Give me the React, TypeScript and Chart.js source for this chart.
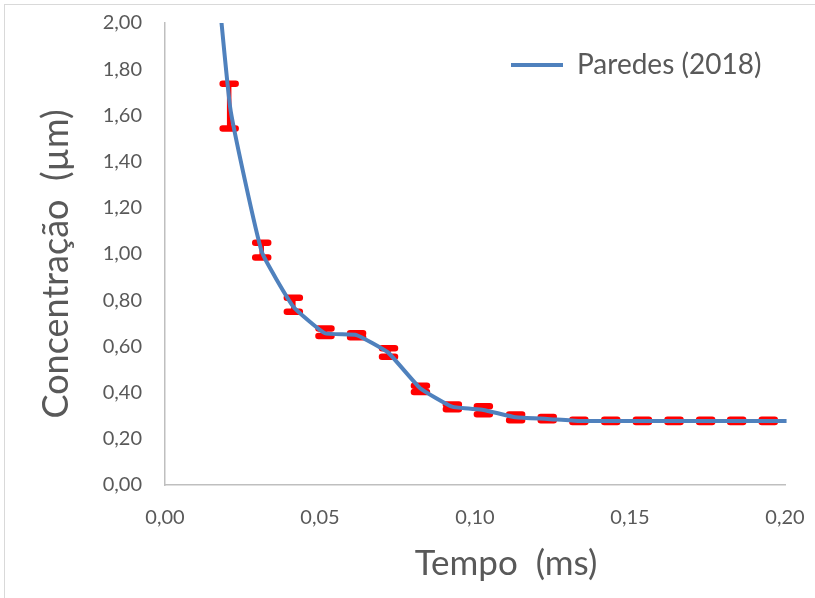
import React, { useEffect, useRef } from 'react';
import { Chart, registerables } from 'chart.js';

Chart.register(...registerables);

// Blue line (Paredes 2018)
const lineX = [0.010, 0.0210, 0.0312, 0.0414, 0.0516, 0.0618, 0.0720, 0.0823, 0.0926, 0.1027, 0.1131, 0.1233, 0.1335, 0.1438, 0.1540, 0.1642, 0.1744, 0.1844, 0.1946, 0.2005];
const lineY = [3.20, 1.636, 1.010, 0.772, 0.657, 0.649, 0.573, 0.419, 0.339, 0.325, 0.293, 0.286, 0.277, 0.277, 0.277, 0.277, 0.277, 0.277, 0.277, 0.277];

// Red error bars (measurements)
const errX = [0.0207, 0.0312, 0.0414, 0.0516, 0.0618, 0.0721, 0.0824, 0.0927, 0.1027, 0.1131, 0.1233, 0.1335, 0.1438, 0.1540, 0.1642, 0.1744, 0.1844, 0.1946];
const errLow = [1.543, 0.985, 0.750, 0.645, 0.640, 0.555, 0.403, 0.328, 0.306, 0.280, 0.280, 0.273, 0.273, 0.273, 0.273, 0.273, 0.273, 0.273];
const errHigh = [1.737, 1.049, 0.811, 0.678, 0.657, 0.592, 0.430, 0.348, 0.341, 0.305, 0.294, 0.283, 0.283, 0.283, 0.283, 0.283, 0.283, 0.283];

const seriesName = 'Paredes (2018)';
const xTitle = 'Tempo  (ms)';
const yTitle = 'Concentração  (µm)';

const TEXT = '#595959';
const FONT = 'Lato';

const bgPlugin = {
  id: 'bgBorder',
  beforeDraw(chart: any) {
    const { ctx, width, height } = chart;
    ctx.save();
    ctx.fillStyle = '#ffffff';
    ctx.fillRect(0, 0, width, height);
    ctx.strokeStyle = '#D9D9D9';
    ctx.lineWidth = 1;
    ctx.strokeRect(4.5, 4.5, width + 20, height + 20);
    ctx.restore();
  },
};

const errorBarPlugin = {
  id: 'errorBars',
  beforeDatasetsDraw(chart: any) {
    const { ctx } = chart;
    const x = chart.scales.x;
    const y = chart.scales.y;
    ctx.save();
    ctx.strokeStyle = '#FF0000';
    ctx.lineCap = 'round';
    errX.forEach((xv, i) => {
      const px = x.getPixelForValue(xv);
      const pl = y.getPixelForValue(errLow[i]);
      const ph = y.getPixelForValue(errHigh[i]);
      ctx.lineWidth = 4.5;
      ctx.beginPath();
      ctx.moveTo(px, pl);
      ctx.lineTo(px, ph);
      ctx.stroke();
      ctx.lineWidth = 6.5;
      ctx.beginPath();
      ctx.moveTo(px - 6.5, pl);
      ctx.lineTo(px + 6.5, pl);
      ctx.moveTo(px - 6.5, ph);
      ctx.lineTo(px + 6.5, ph);
      ctx.stroke();
    });
    ctx.restore();
  },
};

const titlePlugin = {
  id: 'axisTitles',
  afterLayout(chart: any) {
    const lg = chart.legend;
    const ca = chart.chartArea;
    if (lg) {
      const w = lg.width;
      const h = lg.height;
      lg.left = ca.left + 336;
      lg.top = ca.top + 18;
      lg.right = lg.left + w;
      lg.bottom = lg.top + h;
    }
  },
  afterDraw(chart: any) {
    const { ctx } = chart;
    const ca = chart.chartArea;
    ctx.save();
    ctx.fillStyle = TEXT;
    ctx.font = `35px ${FONT}`;
    ctx.textAlign = 'center';
    ctx.textBaseline = 'alphabetic';
    ctx.fillText(xTitle, ca.left + 341, ca.bottom + 90);
    ctx.translate(68, ca.top + 241);
    ctx.rotate(-Math.PI / 2);
    ctx.font = `36px ${FONT}`;
    ctx.fillText(yTitle, 0, 0);
    ctx.restore();
  },
};

const fmt = (v: number) => Number(v).toFixed(2).replace('.', ',');

export default function App() {
  const ref = useRef<HTMLCanvasElement>(null);
  useEffect(() => {
    if (!ref.current) return;
    const chart = new Chart(ref.current, {
      type: 'line',
      data: {
        datasets: [
          {
            label: seriesName,
            data: lineX.map((x, i) => ({ x, y: lineY[i] })),
            borderColor: '#4F81BD',
            backgroundColor: '#4F81BD',
            borderWidth: 4,
            pointRadius: 0,
            tension: 0.12,
            fill: false,
            clip: { left: 0, top: 0, right: 4, bottom: 0 },
          } as any,
        ],
      },
      options: {
        animation: false,
        responsive: false,
        layout: { padding: { top: 23, right: 30, left: 0, bottom: 0 } },
        plugins: {
          legend: {
            position: 'chartArea',
            align: 'start',
            labels: {
              usePointStyle: true,
              pointStyle: 'line',
              pointStyleWidth: 52,
              color: TEXT,
              font: { family: FONT, size: 28 },
              padding: 10,
            },
          },
          tooltip: { enabled: false },
        },
        scales: {
          x: {
            type: 'linear',
            min: 0,
            max: 0.2,
            grid: { display: false, drawTicks: false },
            border: { display: true, color: '#BFBFBF', width: 1.5 },
            ticks: {
              stepSize: 0.05,
              color: TEXT,
              font: { family: FONT, size: 20 },
              padding: 21,
              callback: (v: any) => fmt(v),
            },
            afterFit: (s: any) => {
              s.height = 113;
              s.paddingLeft = 0;
              s.paddingRight = 0;
            },
          },
          y: {
            type: 'linear',
            min: 0,
            max: 2,
            grid: { display: false, drawTicks: false },
            border: { display: true, color: '#BFBFBF', width: 1.5 },
            ticks: {
              stepSize: 0.2,
              color: TEXT,
              font: { family: FONT, size: 20 },
              padding: 23,
              callback: (v: any) => fmt(v),
            },
            afterFit: (s: any) => {
              s.width = 165;
              s.paddingTop = 0;
              s.paddingBottom = 0;
            },
          },
        },
      },
      plugins: [bgPlugin, errorBarPlugin, titlePlugin],
    });
    return () => chart.destroy();
  }, []);
  return (
    <div style={{ position: 'fixed', left: 0, top: 0, width: 815, height: 598 }}>
      <canvas ref={ref} width={815} height={598} />
    </div>
  );
}
